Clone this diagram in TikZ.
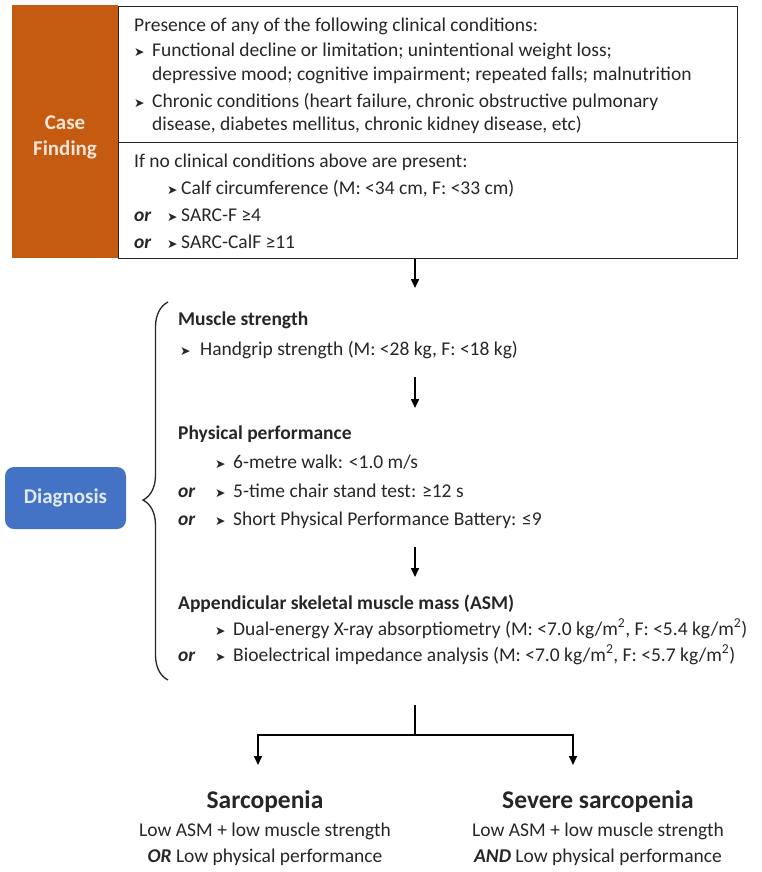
\documentclass[tikz,border=0pt]{standalone}
\usepackage{fontspec}
\setmainfont{Carlito}
\newfontfamily\symfont{DejaVu Sans}
\usetikzlibrary{arrows.meta}
\usetikzlibrary{decorations.pathreplacing}
\definecolor{caseorange}{HTML}{C55A11}
\definecolor{casetext}{HTML}{FBE5D6}
\definecolor{diagblue}{HTML}{4472C4}
\definecolor{diagtext}{HTML}{DEEBF7}
\definecolor{inkgray}{HTML}{262626}
\newcommand{\bul}{{\symfont\fontsize{12.5}{12}\selectfont ➤}}
\newcommand{\itm}[1][18pt]{\makebox[#1][l]{\bul}}
\newcommand{\orr}[1][33pt]{\makebox[#1][l]{\textbf{\textit{or}}}}
\newcommand{\sqm}{kg/m\textsuperscript{2}}

\begin{document}
\begin{tikzpicture}[x=1pt,y=-1pt,
  txt/.style={anchor=base west,inner sep=0pt,text=inkgray,font=\fontsize{19.5}{22}\selectfont},
  hd/.style={txt,font=\fontsize{19.5}{22}\selectfont\bfseries},
  res/.style={anchor=base,inner sep=0pt,text=inkgray,font=\fontsize{19.5}{22}\selectfont},
  frame/.style={draw=inkgray,line width=1.3pt,anchor=north west,inner sep=0pt},
  flow/.style={line width=1.6pt,draw=black,-{Triangle[length=9pt,width=8pt]}}]
\useasboundingbox (0,0) rectangle (762,872);

% case finding
\node (case) [fill=caseorange,anchor=north west,minimum width=106pt,minimum height=253pt,inner sep=0pt] at (12,5) {};
\node (caselbl) [align=center,inner sep=0pt,text=casetext,font=\fontsize{21}{26}\selectfont\bfseries] at (65,137.5) {Case\\Finding};
\node (cond) [frame,minimum width=619pt,minimum height=136pt] at (118,6) {};
\node (screen) [frame,minimum width=619pt,minimum height=116pt] at (118,142) {};

\node (c0) [txt] at (134,32) {Presence of any of the following clinical conditions:};
\node (c1) [txt] at (134,57) {\itm Functional decline or limitation; unintentional weight loss;};
\node (c1b) [txt] at (152,81) {depressive mood; cognitive impairment; repeated falls; malnutrition};
\node (c2) [txt] at (134,107) {\itm Chronic conditions (heart failure, chronic obstructive pulmonary};
\node (c2b) [txt] at (152,131) {disease, diabetes mellitus, chronic kidney disease, etc)};

\node (s0) [txt] at (134,167) {If no clinical conditions above are present:};
\node (s1) [txt] at (167,194) {\itm[14pt]Calf circumference (M: <34 cm, F: <33 cm)};
\node (s2) [txt] at (134,221) {\orr\itm[14pt]SARC-F ≥4};
\node (s3) [txt] at (134,248) {\orr\itm[14pt]SARC-CalF ≥11};

\coordinate (a1) at (415,288);
\draw[flow] (screen.south -| a1) -- (a1);

% diagnosis
\node (diag) [fill=diagblue,rounded corners=9pt,minimum width=121pt,minimum height=62pt,text=diagtext,font=\fontsize{21}{24}\selectfont\bfseries] at (65.5,498) {Diagnosis};
\draw[decorate,decoration={brace,amplitude=25pt,aspect=0.476},line width=1.3pt,inkgray] (168,680) -- (168,302);

\node (m0) [hd] at (178,325) {Muscle strength};
\node (m1) [txt] at (180,355) {\itm[20pt]Handgrip strength (M: <28 kg, F: <18 kg)};
\coordinate (a2s) at (415,377);
\coordinate (a2) at (415,408);
\draw[flow] (a2s) -- (a2);

\node (p0) [hd] at (178,439) {Physical performance};
\node (p1) [txt] at (215,468) {\itm 6-metre walk: <1.0 m/s};
\node (p2) [txt] at (178,497) {\orr[37pt]\itm 5-time chair stand test: ≥12 s};
\node (p3) [txt] at (178,525) {\orr[37pt]\itm Short Physical Performance Battery: ≤9};
\coordinate (a3s) at (415,547);
\coordinate (a3) at (415,577);
\draw[flow] (a3s) -- (a3);

\node (q0) [hd] at (178,609) {Appendicular skeletal muscle mass (ASM)};
\node (q1) [txt] at (215,635) {\itm Dual-energy X-ray absorptiometry (M: <7.0 \sqm, F: <5.4 \sqm)};
\node (q2) [txt] at (178,661) {\orr[37pt]\itm Bioelectrical impedance analysis (M: <7.0 \sqm, F: <5.7 \sqm)};

% outcome
\coordinate (stem) at (415,705);
\coordinate (split) at (415,735);
\coordinate (l1) at (258,765);
\coordinate (r1) at (573,765);
\draw[line width=1.6pt] (stem) -- (split);
\draw[flow] (split) -| (l1);
\draw[flow] (split) -| (r1);

\node (sarc) [res,font=\fontsize{25.5}{28}\selectfont\bfseries] at (265,808) {Sarcopenia};
\node (sarc1) [res] at (265,836) {Low ASM + low muscle strength};
\node (sarc2) [res] at (265,862) {\textbf{\textit{OR}} Low physical performance};
\node (sev) [res,font=\fontsize{25.5}{28}\selectfont\bfseries] at (598,808) {Severe sarcopenia};
\node (sev1) [res] at (598,836) {Low ASM + low muscle strength};
\node (sev2) [res] at (598,862) {\textbf{\textit{AND}} Low physical performance};
\end{tikzpicture}
\end{document}
